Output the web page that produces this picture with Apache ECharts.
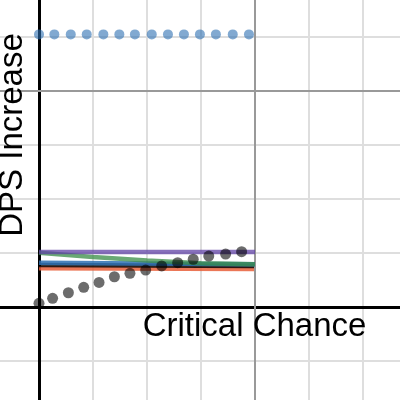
<!DOCTYPE html>
<html>
<head>
<meta charset="utf-8">
<script src="https://cdn.jsdelivr.net/npm/echarts@6/dist/echarts.min.js"></script>
<style>html,body{margin:0;padding:0;background:#fff;overflow:hidden;width:400px;height:400px;position:relative}
#c{position:absolute;left:-15px;top:-17px;width:432px;height:432px}</style>
</head>
<body>
<div id="c"></div>
<script>
// ---- data ----
const xAxisTitle = 'Critical Chance';
const yAxisTitle = 'DPS Increase';

const blueDotsX = [0, 0.071, 0.147, 0.221, 0.298, 0.372, 0.444, 0.522, 0.597, 0.671, 0.745, 0.819, 0.897, 0.972];
const blueDotsY = [1.262, 1.262, 1.262, 1.262, 1.262, 1.262, 1.262, 1.262, 1.262, 1.262, 1.262, 1.262, 1.262, 1.262];

const darkDotsX = [0, 0.063, 0.136, 0.207, 0.278, 0.349, 0.421, 0.494, 0.568, 0.642, 0.714, 0.786, 0.864, 0.938];
const darkDotsY = [0.017, 0.040, 0.066, 0.091, 0.114, 0.140, 0.156, 0.171, 0.190, 0.205, 0.221, 0.236, 0.245, 0.256];

const lineX = [0, 1];
const purpleLineY = [0.255, 0.255];
const blueLineY = [0.205, 0.198];
const blackLineY = [0.194, 0.190];
const redLineY = [0.179, 0.176];

const greenLineX = [0, 0.25, 0.5, 0.75, 1];
const greenLineY = [0.251, 0.231, 0.215, 0.202, 0.198];

const majorX = [1];
const majorY = [1];

function pairs(xs, ys) { return xs.map((x, i) => [x, ys[i]]); }

const chart = echarts.init(document.getElementById('c'), null, {renderer: 'canvas'});

function lineSeries(xs, ys, color, z) {
  return {
    type: 'line', data: pairs(xs, ys), symbol: 'none', silent: true, z: z,
    lineStyle: {color: color, width: 4.5}, animation: false
  };
}

// chart canvas is offset by (-15, -17) so that the value 0 sits at page pixel (39, 307)
const OX = 15, OY = 17;

const option = {
  animation: false,
  grid: {left: 0, right: 0, top: 0, bottom: 0, containLabel: false},
  xAxis: {
    type: 'value', min: -0.25, max: 1.75, interval: 0.25,
    axisLine: {show: true, onZero: true, lineStyle: {color: '#000', width: 3}},
    axisTick: {show: false}, axisLabel: {show: false},
    splitLine: {show: true, lineStyle: {color: '#dedede', width: 2}}
  },
  yAxis: {
    type: 'value', min: -0.5, max: 1.5, interval: 0.25,
    axisLine: {show: true, onZero: true, lineStyle: {color: '#000', width: 3}},
    axisTick: {show: false}, axisLabel: {show: false},
    splitLine: {show: true, lineStyle: {color: '#dedede', width: 2}}
  },
  series: [
    {
      type: 'line', data: [], silent: true, z: 1,
      markLine: {
        silent: true, symbol: 'none', label: {show: false},
        lineStyle: {color: '#999', width: 2, type: 'solid'},
        data: majorX.map(v => ({xAxis: v})).concat(majorY.map(v => ({yAxis: v})))
      }
    },
    lineSeries(lineX, redLineY, 'rgba(232,95,58,0.85)', 3),
    lineSeries(lineX, blackLineY, 'rgba(0,0,0,0.8)', 4),
    lineSeries(lineX, blueLineY, 'rgba(45,112,179,0.85)', 5),
    lineSeries(greenLineX, greenLineY, 'rgba(56,140,70,0.75)', 6),
    lineSeries(lineX, purpleLineY, 'rgba(96,66,166,0.75)', 7),
    {
      type: 'scatter', data: pairs(blueDotsX, blueDotsY), symbolSize: 10, z: 8, silent: true,
      itemStyle: {color: 'rgba(45,112,179,0.75)'}
    },
    {
      type: 'scatter', data: pairs(darkDotsX, darkDotsY), symbolSize: 11, z: 9, silent: true,
      itemStyle: {color: 'rgba(0,0,0,0.72)'}
    }
  ],
  graphic: [
    {
      type: 'text', x: 254.5 + OX, y: 327 + OY, z: 100,
      style: {text: xAxisTitle, font: '33px "Liberation Sans", Arial, sans-serif', fill: '#000',
              align: 'center', verticalAlign: 'middle'}
    },
    {
      type: 'text', x: 13 + OX, y: 135 + OY, rotation: Math.PI / 2, z: 100,
      style: {text: yAxisTitle, font: '33px "Liberation Sans", Arial, sans-serif', fill: '#000',
              align: 'center', verticalAlign: 'middle'}
    }
  ]
};
chart.setOption(option);
</script>
</body>
</html>
